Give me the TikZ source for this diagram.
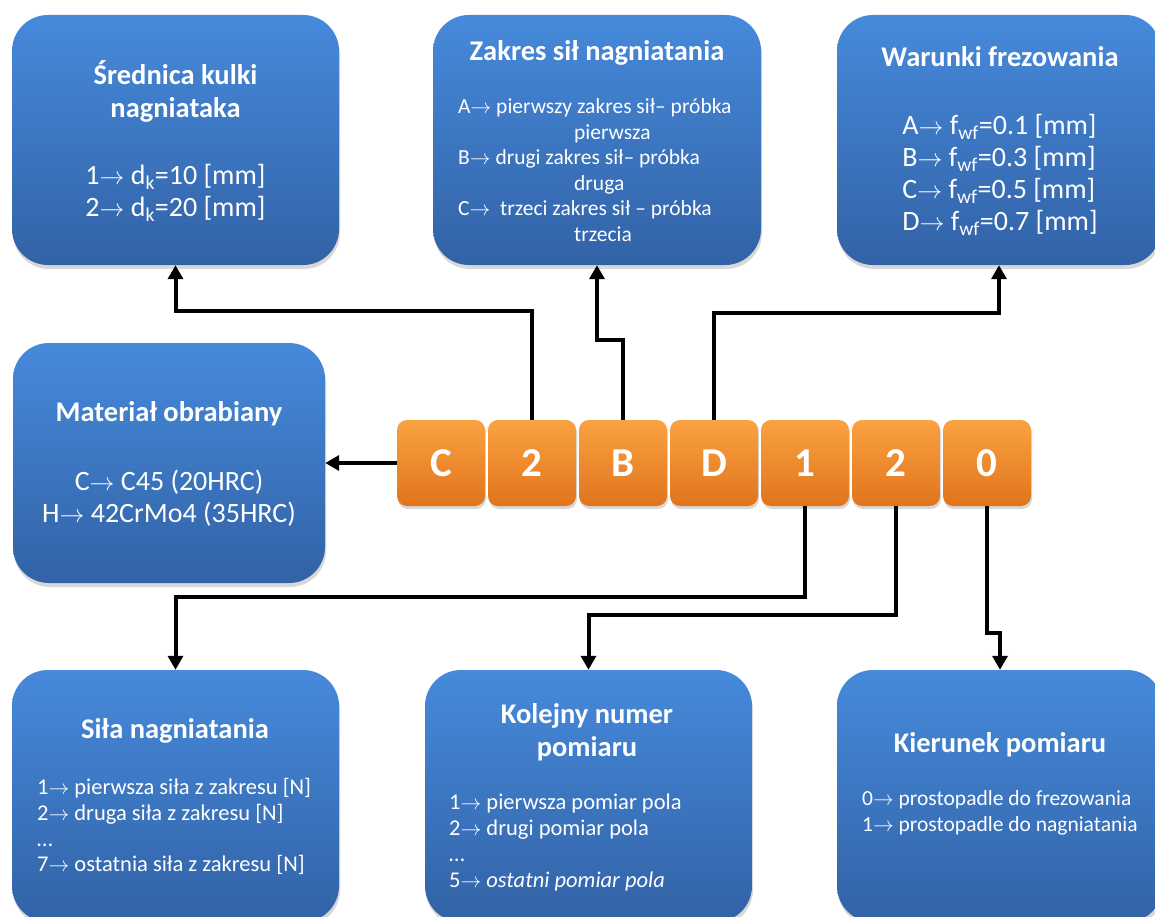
\documentclass[tikz,border=0pt]{standalone}
\usepackage{fontspec}
\setmainfont{Carlito}
\usetikzlibrary{arrows.meta,shadows}

\definecolor{boxtop}{RGB}{70,138,219}
\definecolor{boxbot}{RGB}{50,98,166}
\definecolor{tiletop}{RGB}{250,162,66}
\definecolor{tilebot}{RGB}{224,116,28}

\newcommand\toarrow{\ensuremath{\rightarrow}}

\tikzset{
  infobox/.style={rectangle, rounded corners=36pt, inner sep=0pt,
    top color=boxtop, bottom color=boxbot,
    drop shadow={shadow xshift=1pt, shadow yshift=-4pt, opacity=0.3}},
  codetile/.style={rectangle, rounded corners=10pt, inner sep=0pt,
    minimum width=88pt, minimum height=86pt,
    top color=tiletop, bottom color=tilebot,
    drop shadow={shadow xshift=1pt, shadow yshift=-3pt, opacity=0.3},
    text=white, font=\fontsize{41}{48}\selectfont\bfseries},
  boxtitle/.style={text=white, inner sep=0pt, align=center,
    font=\fontsize{28.5}{33}\selectfont\bfseries},
  bigtext/.style={text=white, inner sep=0pt,
    font=\fontsize{28}{32}\selectfont},
  smalltext/.style={text=white, inner sep=0pt, align=left,
    font=\fontsize{21.5}{25.5}\selectfont},
  listtext/.style={text=white, inner sep=0pt, align=left,
    font=\fontsize{22.5}{25.8}\selectfont},
  conn/.style={line width=4pt, -{Triangle[width=15pt,length=14pt]}}
}

\begin{document}
\begin{tikzpicture}[x=1pt,y=-1pt]
\useasboundingbox (0,0) rectangle (1155,917);
\clip (0,0) rectangle (1155,917);
\fill[white] (0,0) rectangle (1155,917);

% parameter boxes
\node[infobox, minimum width=327pt, minimum height=250pt] (dia)  at (175.5,140) {};
\node[infobox, minimum width=328pt, minimum height=250pt] (rng)  at (597,140) {};
\node[infobox, minimum width=324pt, minimum height=250pt] (mill) at (999,140) {};
\node[infobox, minimum width=312pt, minimum height=240pt] (mat)  at (169,463) {};
\node[infobox, minimum width=327pt, minimum height=252pt] (force) at (175.5,796) {};
\node[infobox, minimum width=327pt, minimum height=252pt] (num)  at (588.5,796) {};
\node[infobox, minimum width=326pt, minimum height=252pt] (dir)  at (1000,796) {};

% box texts
\node[boxtitle] (diaT) at (175.5,91) {Średnica kulki\\nagniataka};
\node[bigtext, align=center] (diaB) at (175.5,192.5)
  {1\toarrow{} d\textsubscript{k}=10 [mm]\\2\toarrow{} d\textsubscript{k}=20 [mm]};

\node[boxtitle] (rngT) at (597,53) {Zakres sił nagniatania};
\node[smalltext, anchor=west] (rngB) at (458,170)
  {A\toarrow{} pierwszy zakres sił– próbka\\
   \hspace*{116pt}pierwsza\\
   B\toarrow{} drugi zakres sił– próbka\\
   \hspace*{116pt}druga\\
   C\toarrow{}\ \ trzeci zakres sił – próbka\\
   \hspace*{116pt}trzecia};

\node[boxtitle] (millT) at (1000,57) {Warunki frezowania};
\node[bigtext, align=left] (millB) at (1000,175)
  {A\toarrow{} f\textsubscript{wf}=0.1 [mm]\\
   B\toarrow{} f\textsubscript{wf}=0.3 [mm]\\
   C\toarrow{} f\textsubscript{wf}=0.5 [mm]\\
   D\toarrow{} f\textsubscript{wf}=0.7 [mm]};

\node[boxtitle] (matT) at (169,414) {Materiał obrabiany};
\node[bigtext, align=center] (matB) at (169,498.5)
  {C\toarrow{} C45 (20HRC)\\H\toarrow{} 42CrMo4 (35HRC)};

\node[boxtitle] (forceT) at (175,731) {Siła nagniatania};
\node[listtext, anchor=west] (forceB) at (37,826.5)
  {1\toarrow{} pierwsza siła z zakresu [N]\\
   2\toarrow{} druga siła z zakresu [N]\\
   …\\
   7\toarrow{} ostatnia siła z zakresu [N]};

\node[boxtitle] (numT) at (587,732) {Kolejny numer\\pomiaru};
\node[listtext, anchor=west] (numB) at (449,842.5)
  {1\toarrow{} pierwsza pomiar pola\\
   2\toarrow{} drugi pomiar pola\\
   …\\
   5\toarrow{} \textit{ostatni pomiar pola}};

\node[boxtitle] (dirT) at (1000,745) {Kierunek pomiaru};
\node[smalltext, anchor=west] (dirB) at (862,813)
  {0\toarrow{} prostopadle do frezowania\\
   1\toarrow{} prostopadle do nagniatania};

% code tiles
\node[codetile] (t1) at (441,463) {C};
\node[codetile] (t2) at (532,463) {2};
\node[codetile] (t3) at (623,463) {B};
\node[codetile] (t4) at (714,463) {D};
\node[codetile] (t5) at (805,463) {1};
\node[codetile] (t6) at (896,463) {2};
\node[codetile] (t7) at (987,463) {0};

% routing levels
\coordinate (yDia) at (0,311);
\coordinate (yRng) at (0,340);
\coordinate (yMill) at (0,313);
\coordinate (yForce) at (0,597);
\coordinate (yNum) at (0,615);
\coordinate (yDir) at (0,633);

% connectors
\draw[conn] (t1.west) -- (mat.east);
\draw[conn] (t2.north) -- (t2.north |- yDia) -- (dia.south |- yDia) -- (dia.south);
\draw[conn] (t3.north) -- (t3.north |- yRng) -- (rng.south |- yRng) -- (rng.south);
\draw[conn] (t4.north) -- (t4.north |- yMill) -- (mill.south |- yMill) -- (mill.south);
\draw[conn] (t5.south) -- (t5.south |- yForce) -- (force.north |- yForce) -- (force.north);
\draw[conn] (t6.south) -- (t6.south |- yNum) -- (num.north |- yNum) -- (num.north);
\draw[conn] (t7.south) -- (t7.south |- yDir) -- (dir.north |- yDir) -- (dir.north);
\end{tikzpicture}
\end{document}
